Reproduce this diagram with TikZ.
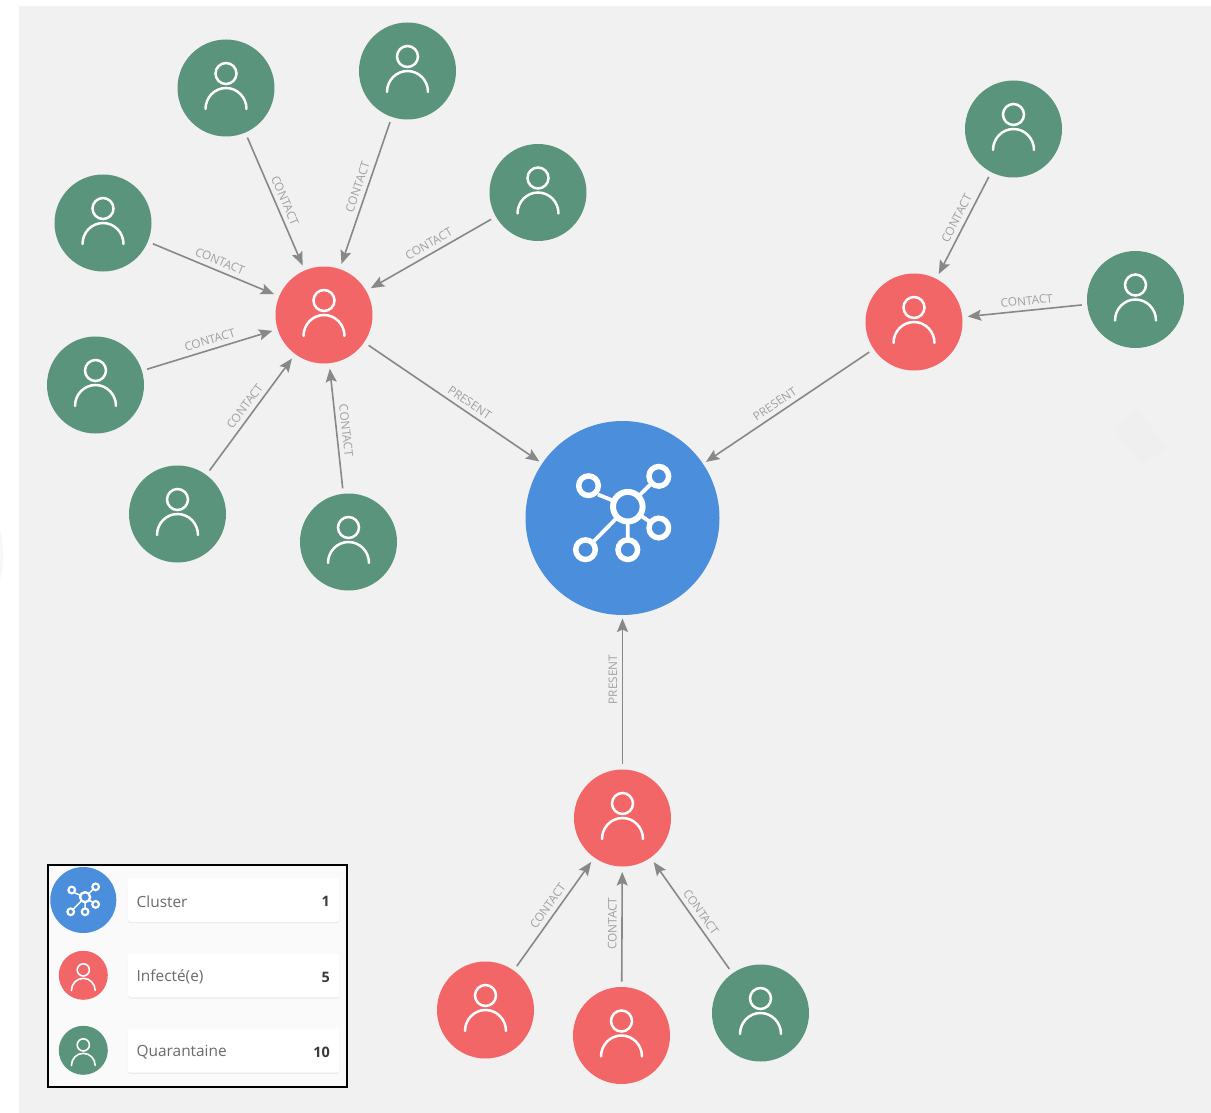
\documentclass[tikz,border=0pt]{standalone}
\usepackage{fontspec}
\setmainfont{Open Sans}
\usetikzlibrary{arrows.meta}
\definecolor{bgc}{HTML}{F1F1F1}
\definecolor{dia}{HTML}{EFEFEF}
\definecolor{grn}{HTML}{5A947C}
\definecolor{redc}{HTML}{F36668}
\definecolor{blu}{HTML}{4B8EDC}
\definecolor{edgec}{HTML}{888888}
\definecolor{labc}{HTML}{A0A0A0}
\definecolor{legbg}{HTML}{FAFAFA}
\definecolor{legtx}{HTML}{6A6A6A}
\definecolor{legnum}{HTML}{3A3A3A}
\definecolor{cardsh}{HTML}{EAEAEA}
\tikzset{
  x=1pt,y=-1pt,
  dot/.style={circle,inner sep=0pt,minimum size=97pt,outer sep=5.5pt},
  greendot/.style={dot,fill=grn},
  reddot/.style={dot,fill=redc},
  hub/.style={circle,inner sep=0pt,minimum size=194pt,outer sep=3.5pt,fill=blu},
  legdot/.style={circle,inner sep=0pt,fill=#1,minimum size=49pt},
  conn/.style={draw=edgec,line width=1.6pt,-{Stealth[length=13.5pt,width=11pt,inset=2.5pt]}},
  lab/.style={sloped,above,midway,inner sep=0pt,yshift=4.5pt,text=labc,font=\fontsize{11.8}{13}\selectfont},
  contactlab/.style={lab,xshift=3pt},
  card/.style={rectangle,rounded corners=3pt,fill=white,inner sep=0pt,minimum width=211.5pt,minimum height=44pt,
     preaction={fill=cardsh,transform canvas={yshift=-1.2pt}}},
  legtext/.style={anchor=west,inner sep=0pt,text=legtx,font=\fontsize{15.4}{17}\selectfont},
  legcount/.style={anchor=east,inner sep=0pt,text=legnum,font=\fontsize{14.4}{16}\selectfont\bfseries},
  iconbig/.style={draw=white,line width=2.5pt,line cap=round},
  iconsmall/.style={draw=white,line width=1.6pt,line cap=round,scale=.58},
  clusterbig/.style={draw=white,line width=3.8pt},
  clustersmall/.style={draw=white,line width=1.5pt,scale=.34},
  person/.pic={
    \path[draw] (0,-14.5) circle[radius=10.5pt];
    \path[draw] (-20.5,21) .. controls (-20.5,9.4) and (-11.3,0) .. (0,0) .. controls (11.3,0) and (20.5,9.4) .. (20.5,21);
  },
  clusterpic/.pic={
    \path[draw] (-24.5,-23.5) -- (5.3,-11.3) (36.3,-41.7) -- (5.3,-11.3) (36.3,10) -- (5.3,-11.3) (5.3,31.7) -- (5.3,-11.3) (-37,31.7) -- (5.3,-11.3);
    \path[draw,fill=blu,line width=1.25*\pgflinewidth] (5.3,-11.3) circle[radius=14.8pt];
    \foreach \p in {(-34,-32.3),(36.3,-41.7),(36.3,10),(5.3,31.7),(-37,31.7)}
      \path[draw,fill=blu,line width=1.2*\pgflinewidth] \p circle[radius=9.8pt];
  }
}
\begin{document}
\begin{tikzpicture}
\useasboundingbox (0,0) rectangle (1211,1113);
\fill[white] (0,0) rectangle (1211,1113);
\fill[bgc] (19,6) rectangle (1211,1113);
\fill[dia] (1136.7,409.3) -- (1166,446.7) -- (1142.7,466) -- (1113.3,427.3) -- cycle;
\fill[bgc!60!white] (0,530) .. controls (4,545) and (4,565) .. (0,580) -- cycle;

% graph nodes
\node[hub] (c) at (622.5,518) {};
\node[reddot] (r1) at (324,315) {};
\node[reddot] (r2) at (914,322) {};
\node[reddot] (r3) at (622.5,818) {};
\node[reddot] (r4) at (485.5,1010) {};
\node[reddot] (r5) at (621.5,1035.5) {};
\node[greendot] (g1) at (226,88) {};
\node[greendot] (g2) at (407.5,71) {};
\node[greendot] (g3) at (538,192.5) {};
\node[greendot] (g4) at (103,223) {};
\node[greendot] (g5) at (95.5,385) {};
\node[greendot] (g6) at (177.5,514) {};
\node[greendot] (g7) at (348.5,542) {};
\node[greendot] (g8) at (1013.5,129) {};
\node[greendot] (g9) at (1135.5,299.5) {};
\node[greendot] (g10) at (760.5,1013) {};

\foreach \n in {r1,r2,r3,r4,r5,g1,g2,g3,g4,g5,g6,g7,g8,g9,g10}
  \pic[iconbig] at (\n) {person};
\pic[clusterbig] at (c) {clusterpic};

% connectors
\foreach \a/\b in {g1/r1,g2/r1,g3/r1,g4/r1,g5/r1,g6/r1,g7/r1,g8/r2,g9/r2,r4/r3,r5/r3,g10/r3}
  \draw[conn] (\a) -- node[contactlab] {CONTACT} (\b);
\draw[conn] (r1) -- node[lab,pos=.56] {PRESENT} (c);
\draw[conn] (r2) -- node[lab,pos=.545] {PRESENT} (c);
\draw[conn] (r3) -- node[lab,pos=.58] {PRESENT} (c);

% legend
\draw[black,fill=legbg,line width=2pt] (47.5,864.5) rectangle (347,1086.5);
\node[card] (k1) at (233.5,900) {};
\node[card] (k2) at (233.5,975.3) {};
\node[card] (k3) at (233.5,1050.7) {};
\node[legtext] (t1) at (136.5,901.5) {Cluster};
\node[legtext] (t2) at (136.5,977) {Infecté(e)};
\node[legtext] (t3) at (136.5,1052) {Quarantaine};
\node[legcount] (n1) at (330,901.5) {1};
\node[legcount] (n2) at (330,977) {5};
\node[legcount] (n3) at (330,1052) {10};
\node[legdot=blu,minimum size=66pt] (l1) at (83.3,900) {};
\node[legdot=redc] (l2) at (83.3,975.3) {};
\node[legdot=grn] (l3) at (83.3,1050.3) {};
\pic[clustersmall] at (83.3,901) {clusterpic};
\pic[iconsmall] at (83.3,978.3) {person};
\pic[iconsmall] at (83.3,1053.3) {person};
\end{tikzpicture}
\end{document}
